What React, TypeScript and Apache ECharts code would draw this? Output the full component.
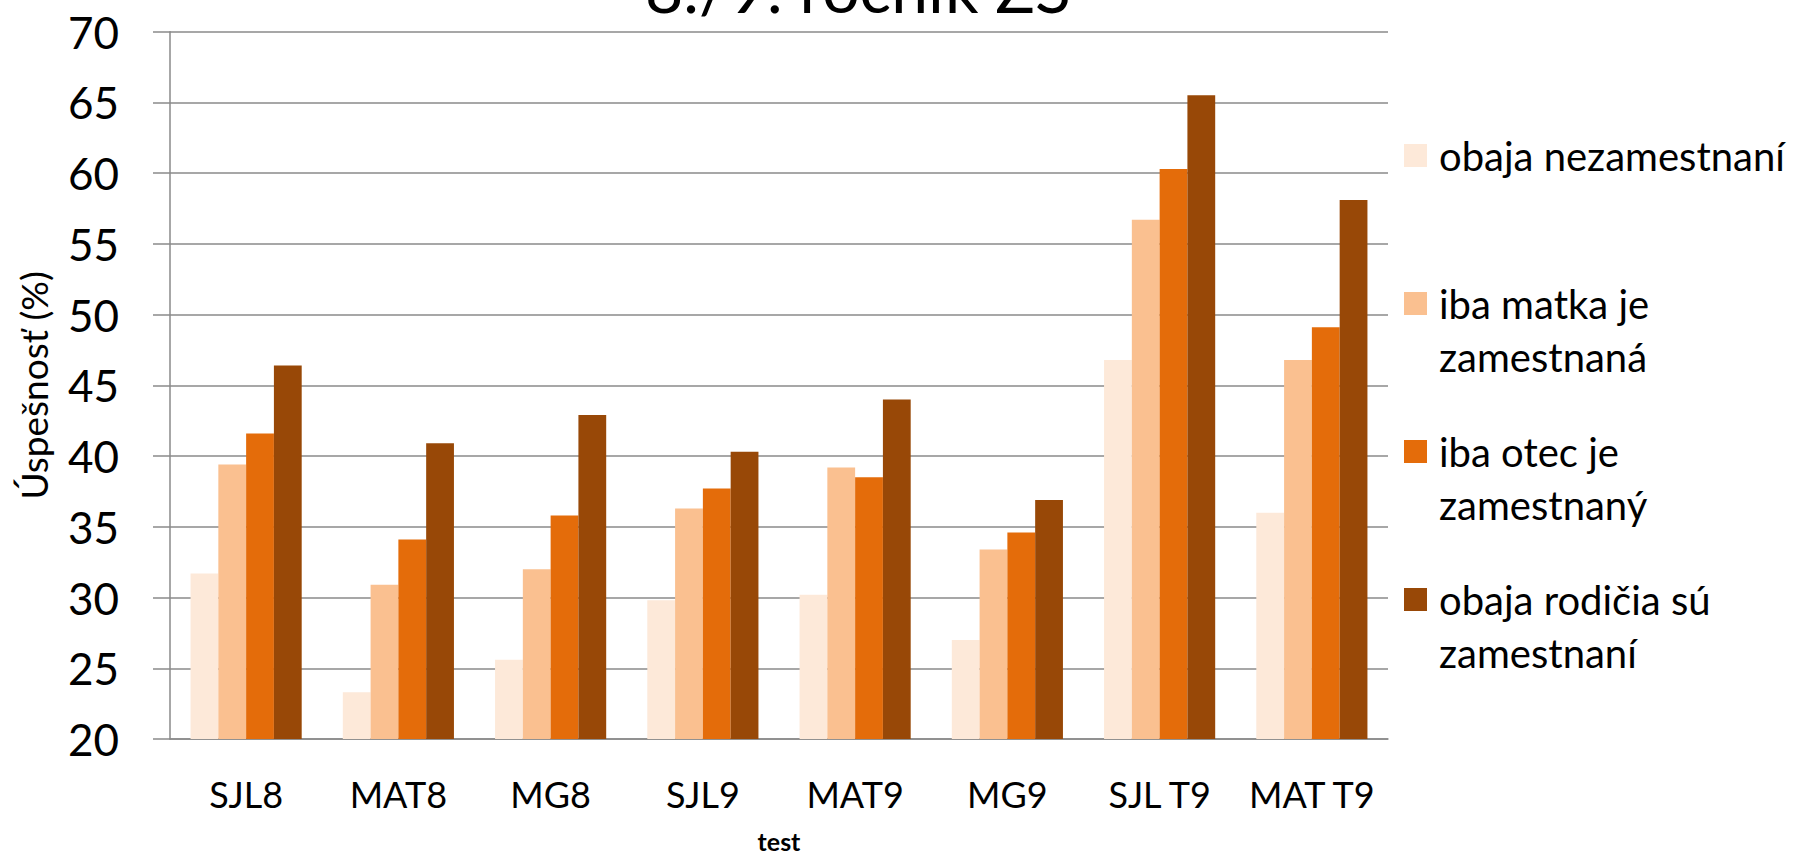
import React, { useEffect, useRef } from "react";
import * as echarts from "echarts";

const titleText = "8./9. ročník ZŠ";
const categories = ["SJL8", "MAT8", "MG8", "SJL9", "MAT9", "MG9", "SJL T9", "MAT T9"];
const seriesNames = [
  "obaja nezamestnaní",
  "iba matka je zamestnaná",
  "iba otec je zamestnaný",
  "obaja rodičia sú zamestnaní",
];
const legendLines: Record<string, string[]> = {
  "obaja nezamestnaní": ["obaja nezamestnaní"],
  "iba matka je zamestnaná": ["iba matka je", "zamestnaná"],
  "iba otec je zamestnaný": ["iba otec je", "zamestnaný"],
  "obaja rodičia sú zamestnaní": ["obaja rodičia sú", "zamestnaní"],
};
const bothUnemployed = [31.7, 23.3, 25.6, 29.8, 30.2, 27.0, 46.8, 36.0];
const onlyMother = [39.4, 30.9, 32.0, 36.3, 39.2, 33.4, 56.7, 46.8];
const onlyFather = [41.6, 34.1, 35.8, 37.7, 38.5, 34.6, 60.3, 49.1];
const bothEmployed = [46.4, 40.9, 42.9, 40.3, 44.0, 36.9, 65.5, 58.1];
const seriesColors = ["#FDE9D9", "#FAC090", "#E46C0A", "#984807"];
const yMin = 20;
const yMax = 70;
const yStep = 5;

const FONT = "Lato, Carlito, Calibri, sans-serif";
const GRID = "#8a8a8a";

export default function App() {
  const ref = useRef<HTMLDivElement>(null);
  useEffect(() => {
    if (!ref.current) return;
    const chart = echarts.init(ref.current, undefined, { renderer: "svg" });
    const values = [bothUnemployed, onlyMother, onlyFather, bothEmployed];
    chart.setOption({
      animation: false,
      backgroundColor: "#ffffff",
      textStyle: { fontFamily: FONT, color: "#000" },
      graphic: [
        {
          type: "text",
          x: 858,
          y: -13,
          style: {
            text: titleText,
            font: `66px ${FONT}`,
            fill: "#000",
            align: "center",
            verticalAlign: "middle",
          },
        },
      ],
      legend: {
        orient: "vertical",
        left: 1404,
        top: 76,
        padding: 0,
        itemGap: -11,
        itemWidth: 23,
        itemHeight: 23,
        icon: "rect",
        selectedMode: false,
        data: seriesNames,
        formatter: (name: string) => {
          const lines = legendLines[name] || [name];
          return ["", lines[0], lines[1] || ""].join("\n");
        },
        textStyle: {
          fontFamily: FONT,
          fontSize: 40,
          lineHeight: 53,
          color: "#000",
          padding: [0, 0, 0, 7],
        },
      },
      grid: { left: 170, right: 405, top: 31.7, bottom: 114, containLabel: false },
      xAxis: {
        type: "category",
        data: categories,
        name: "test",
        nameLocation: "middle",
        nameGap: 89,
        nameTextStyle: { fontFamily: FONT, fontSize: 25, fontWeight: "bold", color: "#000" },
        axisLine: { show: true, lineStyle: { color: GRID, width: 1.5 } },
        axisTick: { show: false },
        axisLabel: { fontFamily: FONT, fontSize: 36, color: "#000", margin: 37, interval: 0 },
      },
      yAxis: {
        type: "value",
        min: yMin,
        max: yMax,
        interval: yStep,
        name: "Úspešnosť (%)",
        nameLocation: "middle",
        nameGap: 118,
        nameTextStyle: { fontFamily: FONT, fontSize: 37, color: "#000" },
        axisLine: { show: true, lineStyle: { color: GRID, width: 1.5 } },
        axisTick: { show: true, inside: false, length: 17, lineStyle: { color: GRID, width: 1.5 } },
        axisLabel: { fontFamily: FONT, fontSize: 44, color: "#000", margin: 51 },
        splitLine: { show: true, lineStyle: { color: GRID, width: 1.5 } },
      },
      series: seriesNames.map((name, i) => ({
        name,
        type: "bar",
        data: values[i],
        barGap: "0%",
        barCategoryGap: "27%",
        itemStyle: { color: seriesColors[i] },
      })),
    });
    return () => chart.dispose();
  }, []);
  return (
    <div
      ref={ref}
      style={{ position: "fixed", left: 0, top: 0, width: 1793, height: 858 }}
    />
  );
}
